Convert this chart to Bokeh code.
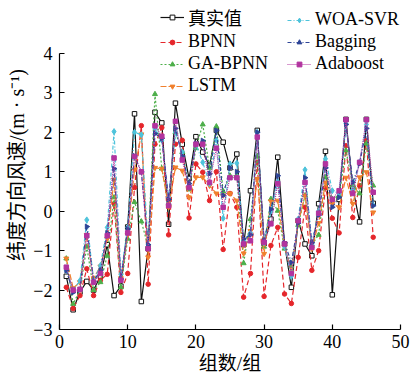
import numpy as np
from bokeh.plotting import figure
from bokeh.models import Range1d, Legend, LegendItem, FixedTicker
from bokeh.embed import file_html
from bokeh.resources import INLINE

groups = list(range(1, 47))

true_vals = [-1.65, -2.50, -2.05, -1.78, -2.00, -1.65, -0.85, -2.14, -1.90, -0.40,
             2.47, -2.29, -0.95, 2.51, 2.24, -0.33, 2.74, 1.70, 0.83, 1.89,
             1.50, 1.16, 2.05, 1.75, 1.10, 1.45, -0.85, 0.52, 2.05, -0.82,
             -0.20, 1.37, -0.83, -1.93, -0.24, -0.83, -1.13, 0.19, 1.52, -2.12,
             0.30, 2.33, 0.60, -0.27, 2.33, 0.20]

bpnn = [-1.93, -2.47, -2.14, -1.46, -2.14, -1.75, -1.60, 0.19, -2.06, -1.58,
        0.60, 2.17, -1.85, 1.70, 2.12, -0.60, 1.70, 1.80, -0.17, 1.20,
        0.99, 0.27, 1.00, -0.97, 0.45, 0.10, -2.18, -1.58, 1.24, -2.16,
        -0.87, -0.41, -2.10, -2.34, -1.17, 0.10, -1.50, -1.00, 0.60, -0.18,
        -0.55, 1.66, -0.16, 0.65, 1.79, -0.66]

ga_bpnn = [-1.20, -2.35, -2.00, -0.90, -2.00, -1.80, -1.13, 0.35, -1.93, -0.70,
           0.23, -0.26, -0.90, 2.97, 1.08, 0.20, 2.00, 1.50, 0.55, 1.60,
           2.20, 1.10, 2.15, 0.50, 0.90, 0.90, -1.32, -0.20, 1.40, -0.90,
           0.31, 0.01, -0.95, -1.40, -0.35, 0.40, -0.85, -0.60, 0.86, 0.31,
           0.40, 1.54, 0.65, 0.45, 1.72, 0.65]

lstm = [-1.20, -1.95, -1.80, -0.60, -1.70, -1.40, -0.70, 0.80, -1.70, -0.60,
        1.05, 1.95, -1.17, 1.10, 1.08, 0.10, 1.11, 1.03, 0.35, 0.86,
        0.86, 0.65, 0.45, 0.40, 0.45, 0.27, -1.07, -0.50, 0.82, -1.08,
        0.25, 0.27, -0.90, -1.55, -0.30, 0.40, -0.95, -0.30, 0.73, 0.19,
        0.10, 0.85, 0.19, 0.86, 0.99, -0.03]

woa_svr = [-1.50, -2.00, -1.76, -0.22, -1.76, -1.38, -0.41, 2.02, -1.60, -0.41,
           2.00, 1.94, -0.85, 2.10, 1.80, 0.35, 2.00, 1.50, 0.65, 1.70,
           1.24, 0.70, 1.80, -0.18, 1.20, 1.22, -0.75, -0.55, 2.00, -0.80,
           0.00, 0.75, -0.90, -1.65, -0.20, 1.05, -0.85, 0.00, 1.33, 0.52,
           0.45, 2.22, 0.55, 1.25, 2.20, 0.15]

bagging = [-1.50, -2.06, -2.00, -0.39, -1.78, -1.50, -0.55, 1.08, -1.72, -0.45,
           1.40, 1.00, -0.85, 1.97, 1.85, 0.30, 2.10, 1.40, 0.70, 1.72,
           1.79, 0.95, 2.05, 0.40, 1.10, 1.00, -0.70, -0.60, 2.00, -0.75,
           0.05, 0.90, -0.80, -1.30, -0.30, 0.85, -0.80, -0.10, 1.10, 0.10,
           0.35, 2.20, 0.73, 1.20, 2.10, 0.14]

adaboost = [-1.42, -2.00, -1.98, -0.62, -1.80, -1.58, -0.62, 1.35, -1.75, -0.55,
            1.39, 1.00, -0.95, 2.17, 1.90, 0.14, 2.28, 1.30, 0.60, 1.70,
            1.70, 0.73, 1.60, 0.10, 0.85, 0.85, -0.83, -0.75, 1.88, -0.79,
            -0.32, 0.70, -0.83, -1.58, -0.24, 0.73, -0.92, -0.05, 1.20, 0.30,
            0.52, 2.32, 0.45, 1.24, 2.32, 0.48]

x_ticks = [0, 10, 20, 30, 40, 50]
y_ticks = [-3, -2, -1, 0, 1, 2, 3, 4]

SERIF = "Liberation Serif, Noto Sans CJK SC"

# frame reaches the top of the canvas so the legend is not clipped;
# the y axis line itself is bounded to [-3, 4]
p = figure(width=410, height=378, output_backend="svg", toolbar_location=None,
           x_range=Range1d(0, 50), y_range=Range1d(-3, 4 + 53 * 7 / 276),
           min_border_left=59, min_border_right=10, min_border_top=0, min_border_bottom=49)
p.outline_line_color = None
p.xgrid.visible = False
p.ygrid.visible = False
p.background_fill_color = "white"

for ax in (p.xaxis[0], p.yaxis[0]):
    ax.major_tick_in = 5
    ax.major_tick_out = 0
    ax.minor_tick_line_color = None
    ax.axis_line_color = "black"
    ax.axis_line_width = 1.2
    ax.major_tick_line_width = 1.2
    ax.major_label_text_font = SERIF
    ax.major_label_text_font_size = "18px"
    ax.major_label_text_color = "black"
    ax.axis_label_text_font = SERIF
    ax.axis_label_text_font_style = "normal"
    ax.axis_label_text_color = "black"

p.yaxis.bounds = (-3, 4)
p.xaxis.axis_label_text_font_size = "19px"
p.yaxis.axis_label_text_font_size = "20px"
p.xaxis.ticker = FixedTicker(ticks=x_ticks)
p.yaxis.ticker = FixedTicker(ticks=y_ticks)
p.yaxis.major_label_overrides = {-3: "\u22123", -2: "\u22122", -1: "\u22121"}
p.xaxis.axis_label = "组数/组"
p.yaxis.axis_label = "纬度方向风速/(m · s\u207b\u00b9)"
p.xaxis.major_label_standoff = 5
p.xaxis.axis_label_standoff = 2
p.yaxis.major_label_standoff = 7
p.yaxis.axis_label_standoff = 2

styles = [
    ("真实值", true_vals, "#111111", "solid", "square", 4.5, "white", 1.2, 0),
    ("BPNN", bpnn, "#E5262B", "5 3", "circle", 4.5, "#E5262B", 1.2, 0),
    ("GA-BPNN", ga_bpnn, "#4DAF4A", "2 2", "triangle", 5, "#4DAF4A", 1.2, 0),
    ("LSTM", lstm, "#F0802E", "6 2", "inverted_triangle", 5, "#F0802E", 1.2, 0),
    ("WOA-SVR", woa_svr, "#4DC3DB", "4 2 1 2", "diamond", 6, "#4DC3DB", 1.2, 0),
    ("Bagging", bagging, "#2E4597", "4 2 1 2", "triangle", 5, "#2E4597", 1.2, -np.pi / 2),
    ("Adaboost", adaboost, "#B2339F", "1 1", "square", 4.5, "#B2339F", 1.2, 0),
]

items = []
for label, ys, color, dash, marker, size, fill, lw, ang in styles:
    lr = p.line(groups, ys, line_color=color, line_dash=dash, line_width=lw)
    sr = p.scatter(groups, ys, marker=marker, size=size, line_color=color,
                   fill_color=fill, line_width=1, angle=ang)
    items.append(LegendItem(label=label, renderers=[lr, sr]))

def make_legend(its, loc):
    lg = Legend(items=its, location=loc, orientation="vertical")
    lg.label_text_font = SERIF
    lg.label_text_font_size = "18px"
    lg.label_text_color = "black"
    lg.glyph_width = 24
    lg.glyph_height = 12
    lg.label_height = 21
    lg.label_standoff = 4
    lg.spacing = 1
    lg.padding = 0
    lg.margin = 0
    lg.border_line_alpha = 0
    lg.background_fill_alpha = 0
    return lg

p.add_layout(make_legend(items[:4], (101, 233)))
p.add_layout(make_legend(items[4:], (228, 255)))

open("out.html", "w").write(file_html(p, INLINE))
